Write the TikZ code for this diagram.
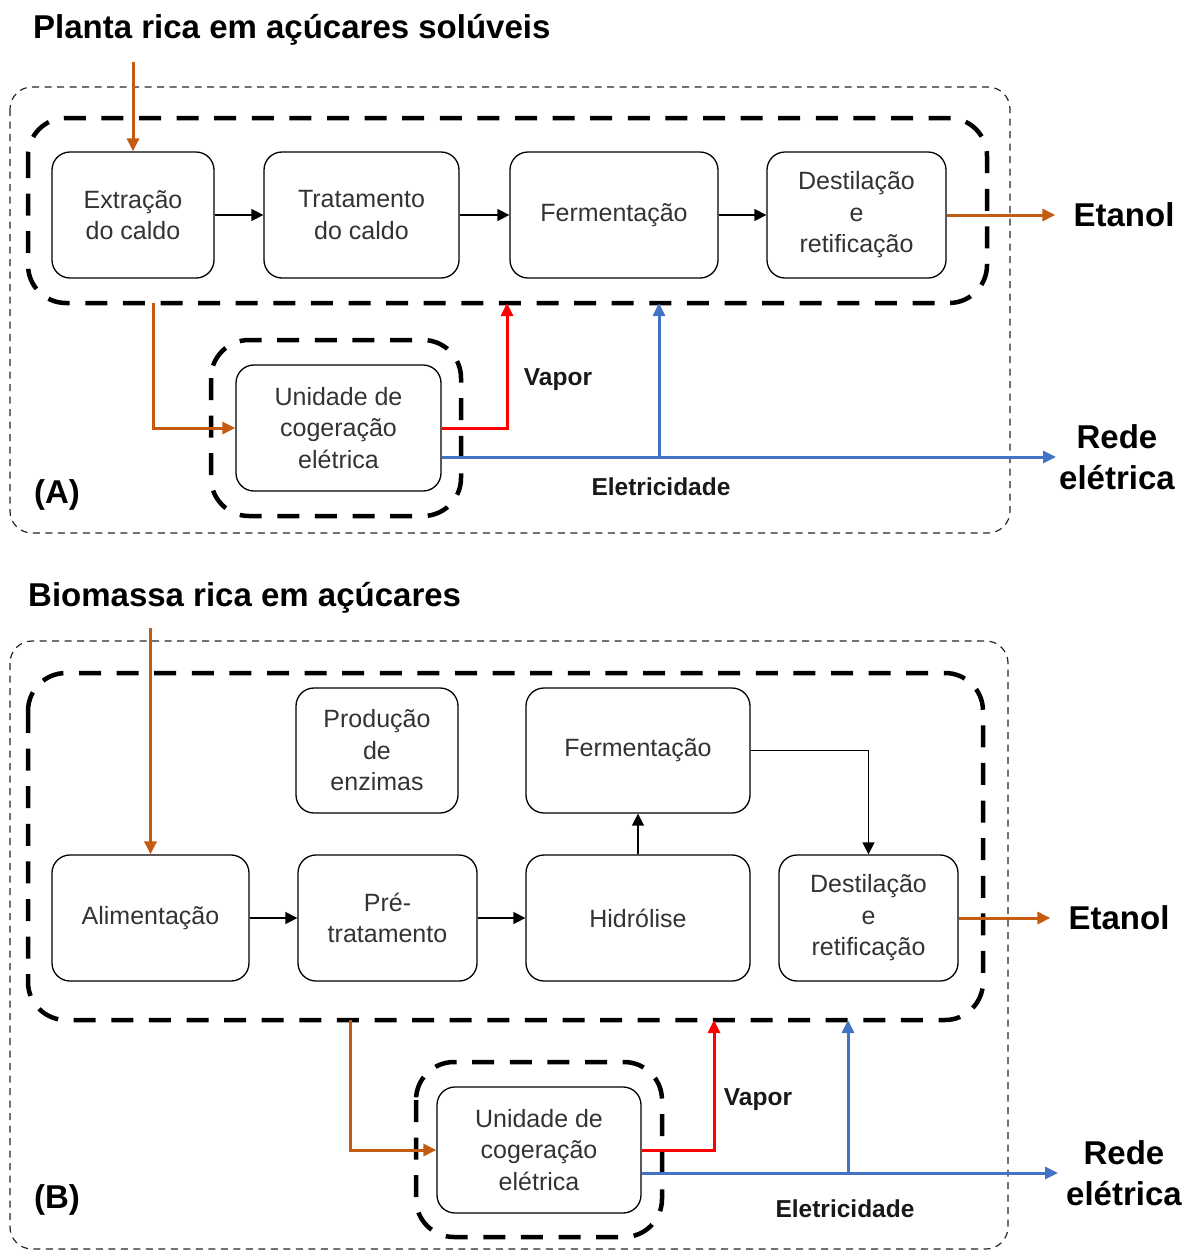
\documentclass[tikz,border=0pt]{standalone}
\usepackage{fontspec}
\setmainfont{Liberation Sans}
\usetikzlibrary{arrows.meta,positioning}
\definecolor{feedorange}{HTML}{C55A11}
\definecolor{vaporred}{HTML}{FF0000}
\definecolor{powerblue}{HTML}{4472C4}

\begin{document}
\begin{tikzpicture}[x=1pt,y=-1pt,
    unit/.style={draw,rounded corners=18pt,line width=1.3pt,align=center,inner sep=0pt,
                 text=black!80,font=\fontsize{25}{31.5}\selectfont},
    panel/.style={draw=black!85,line width=1.2pt,dash pattern=on 7pt off 5.5pt,rounded corners=22pt},
    plantline/.style={draw,line width=4.5pt,dash pattern=on 22pt off 15.6pt,rounded corners=38pt},
    link/.style={-{Triangle[length=12pt,width=12pt]},line width=1.5pt},
    feed/.style={-{Triangle[length=13pt,width=12pt]},line width=3pt,feedorange},
    vapor/.style={-{Triangle[length=13pt,width=12pt]},line width=3pt,vaporred},
    power/.style={-{Triangle[length=13pt,width=12pt]},line width=3pt,powerblue},
    heading/.style={font=\fontsize{33}{36}\selectfont\bfseries,inner sep=0pt},
    product/.style={font=\fontsize{33}{41}\selectfont\bfseries,align=center,inner sep=0pt},
    stream/.style={font=\fontsize{24.5}{28}\selectfont\bfseries,inner sep=0pt,text=black!90}]
    \useasboundingbox (0,0) rectangle (1197,1251);

    % (A)
    \node[heading,anchor=west] (titleA) at (33,30) {Planta rica em açúcares solúveis};
    \draw[panel] (10,87) rectangle (1010,533);
    \draw[plantline] (28,118) rectangle (987,303);
    \draw[plantline] (211,340) rectangle (461,516);

    \node[unit,minimum width=162,minimum height=126] (extA) at (133,215)   {Extração\\do caldo};
    \node[unit,minimum width=195,minimum height=126] (trtA) at (361.5,215) {Tratamento\\do caldo};
    \node[unit,minimum width=208,minimum height=126] (ferA) at (614,215)   {Fermentação};
    \node[unit,minimum width=179,minimum height=126] (desA) at (856.5,215) {Destilação\\e\\retificação};
    \node[unit,minimum width=205,minimum height=126] (cogA) at (338.5,428) {Unidade de\\cogeração\\elétrica};

    \node[product] (etA)   at (1124,215) {Etanol};
    \node[product] (gridA) at (1117,457) {Rede\\elétrica};
    \node[stream]  (vapA)  at (558,380)  {Vapor};
    \node[stream]  (eleA)  at (661,487)  {Eletricidade};
    \node[heading] (tagA)  at (57,495)   {(A)};

    \coordinate (inA)  at (133,62);
    \coordinate (outA) at (153,303);
    \coordinate (stA)  at (507,303);
    \coordinate (elA)  at (659,303);

    \draw[link] (extA) -- (trtA);
    \draw[link] (trtA) -- (ferA);
    \draw[link] (ferA) -- (desA);
    \draw[feed] (inA) -- (extA.north);
    \draw[feed] (outA) |- (cogA.west);
    \draw[feed] (desA.east) -- ([xshift=-18pt]etA.west);
    \draw[vapor] (cogA.east) -| (stA);
    \draw[power] ([yshift=-29pt]cogA.east) -- ([xshift=-3pt]gridA.west);
    \draw[power] (elA |- gridA.west) -- (elA);

    % (B)
    \node[heading,anchor=west] (titleB) at (28,598) {Biomassa rica em açúcares};
    \draw[panel] (10,641) rectangle (1008,1249);
    \draw[plantline] (28,673) rectangle (983,1020);
    \draw[plantline] (416,1062) rectangle (662,1237);

    \node[unit,minimum width=162,minimum height=125] (enzB) at (377,750.5) {Produção\\de\\enzimas};
    \node[unit,minimum width=224,minimum height=125] (ferB) at (638,750.5) {Fermentação};
    \node[unit,minimum width=197,minimum height=126] (aliB) at (150.5,918) {Alimentação};
    \node[unit,minimum width=179,minimum height=126] (preB) at (387.5,918) {Pré-\\tratamento};
    \node[unit,minimum width=224,minimum height=126] (hidB) at (638,918)   {Hidrólise};
    \node[unit,minimum width=179,minimum height=126] (desB) at (868.5,918) {Destilação\\e\\retificação};
    \node[unit,minimum width=204,minimum height=126] (cogB) at (539,1150)  {Unidade de\\cogeração\\elétrica};

    \node[product] (etB)   at (1119,918)  {Etanol};
    \node[product] (gridB) at (1124,1173) {Rede\\elétrica};
    \node[stream]  (vapB)  at (758,1100)  {Vapor};
    \node[stream]  (eleB)  at (845,1209)  {Eletricidade};
    \node[heading] (tagB)  at (57,1200)   {(B)};

    \coordinate (inB)  at (150.5,628);
    \coordinate (outB) at (350,1020);
    \coordinate (stB)  at (714,1020);
    \coordinate (elB)  at (848,1020);

    \draw[link] (aliB) -- (preB);
    \draw[link] (preB) -- (hidB);
    \draw[link] (hidB) -- (ferB);
    \draw[link] (ferB.east) -| (desB.north);
    \draw[feed] (inB) -- (aliB.north);
    \draw[feed] (outB) |- (cogB.west);
    \draw[feed] (desB.east) -- ([xshift=-18pt]etB.west);
    \draw[vapor] (cogB.east) -| (stB);
    \draw[power] ([yshift=-23pt]cogB.east) -- ([xshift=-8pt]gridB.west);
    \draw[power] (elB |- gridB.west) -- (elB);
\end{tikzpicture}
\end{document}
